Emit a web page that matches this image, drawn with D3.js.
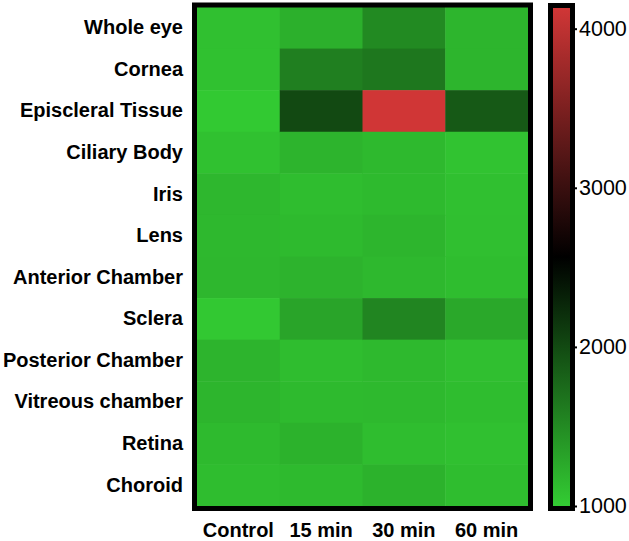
<!DOCTYPE html>
<html>
<head>
<meta charset="utf-8">
<script src="https://cdn.jsdelivr.net/npm/d3@7"></script>
<style>
  body { margin: 0; background: #fff; }
  svg { display: block; font-family: "Liberation Sans", Arial, sans-serif; }
</style>
</head>
<body>
<div id="chart"></div>
<script>
// tissues (rows) and time points (columns)
const tissues = ["Whole eye", "Cornea", "Episcleral Tissue", "Ciliary Body", "Iris", "Lens",
  "Anterior Chamber", "Sclera", "Posterior Chamber", "Vitreous chamber", "Retina", "Choroid"];
const times = ["Control", "15 min", "30 min", "60 min"];

const controlVals = [1093, 1085, 1023, 1085, 1162, 1154, 1162, 1030, 1185, 1178, 1139, 1116];
const min15Vals   = [1216, 1587, 2004, 1185, 1116, 1139, 1193, 1309, 1116, 1139, 1201, 1139];
const min30Vals   = [1510, 1649, 4130, 1147, 1139, 1178, 1154, 1548, 1147, 1147, 1116, 1201];
const min60Vals   = [1178, 1178, 1880, 1070, 1093, 1100, 1116, 1278, 1100, 1116, 1093, 1116];

const legendTicks = [1000, 2000, 3000, 4000];
const scaleMin = 1000, scaleMax = 4130;

const width = 629, height = 541;
const svg = d3.select("#chart").append("svg")
  .attr("width", width).attr("height", height);

const cells = [];
const series = [controlVals, min15Vals, min30Vals, min60Vals];
series.forEach((vals, j) => {
  vals.forEach((v, i) => cells.push({ tissue: tissues[i], time: times[j], value: v }));
});

const x = d3.scaleBand().domain(times).range([197, 528]);
const y = d3.scaleBand().domain(tissues).range([7, 506]);

const color = d3.scaleLinear()
  .domain([scaleMin, (scaleMin + scaleMax) / 2, scaleMax])
  .range(["#33cc33", "#000000", "#d03636"])
  .clamp(true);

svg.append("g").selectAll("rect")
  .data(cells)
  .enter().append("rect")
  .attr("x", d => x(d.time))
  .attr("y", d => y(d.tissue))
  .attr("width", x.bandwidth() + 0.5)
  .attr("height", y.bandwidth() + 0.5)
  .attr("fill", d => color(d.value));

// frame around heatmap
svg.append("rect")
  .attr("x", 194.5).attr("y", 5)
  .attr("width", 336).attr("height", 503.5)
  .attr("fill", "none").attr("stroke", "#000").attr("stroke-width", 5);

// row labels
const yAxis = svg.append("g")
  .attr("transform", "translate(197,0)")
  .call(d3.axisLeft(y).tickSize(0).tickPadding(14));
yAxis.select(".domain").remove();
yAxis.selectAll("text")
  .attr("fill", "#000")
  .style("font-size", "20px").style("font-weight", "bold")
  .style("font-family", "'Liberation Sans', Arial, sans-serif");

// column labels
const xAxis = svg.append("g")
  .attr("transform", "translate(0,512)")
  .call(d3.axisBottom(x).tickSize(0).tickPadding(11));
xAxis.select(".domain").remove();
xAxis.selectAll("text")
  .attr("fill", "#000")
  .style("font-size", "20px").style("font-weight", "bold")
  .style("font-family", "'Liberation Sans', Arial, sans-serif");

// colour bar
const legendY = d3.scaleLinear().domain([scaleMin, scaleMax]).range([506, 8]);
const grad = svg.append("defs").append("linearGradient")
  .attr("id", "cbar").attr("x1", 0).attr("y1", 1).attr("x2", 0).attr("y2", 0);
d3.range(0, 1.0001, 0.05).forEach(t => {
  grad.append("stop")
    .attr("offset", t)
    .attr("stop-color", color(scaleMin + t * (scaleMax - scaleMin)));
});
svg.append("rect")
  .attr("x", 553).attr("y", 8)
  .attr("width", 17).attr("height", 498)
  .attr("fill", "url(#cbar)");
svg.append("rect")
  .attr("x", 550.5).attr("y", 5.5)
  .attr("width", 22).attr("height", 503)
  .attr("fill", "none").attr("stroke", "#000").attr("stroke-width", 5);

const cAxis = svg.append("g")
  .attr("transform", "translate(574,0)")
  .call(d3.axisRight(legendY).tickValues(legendTicks).tickSize(3).tickPadding(2).tickFormat(d3.format("d")));
cAxis.select(".domain").remove();
cAxis.selectAll("line").attr("stroke", "#000").attr("stroke-width", 2);
cAxis.selectAll("text")
  .attr("fill", "#000")
  .style("font-size", "21.5px")
  .style("font-family", "'Liberation Sans', Arial, sans-serif");
</script>
</body>
</html>
